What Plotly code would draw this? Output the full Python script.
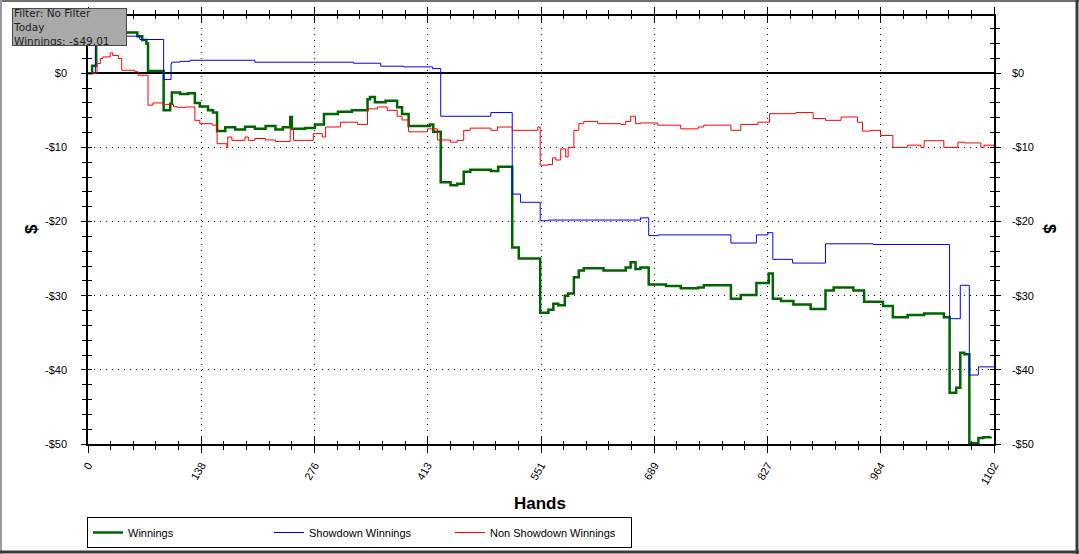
import plotly.graph_objects as go

# ---------------- data ----------------
x_tick_vals = [0, 138, 276, 413, 551, 689, 827, 964, 1102]
x_tick_text = ["0", "138", "276", "413", "551", "689", "827", "964", "1102"]
y_tick_vals = [0, -10, -20, -30, -40, -50]
y_tick_text = ["$0", "-$10", "-$20", "-$30", "-$40", "-$50"]

win_hands = [0, 5, 10, 39, 60, 66, 71, 73, 92, 100, 102, 112, 122, 130, 136, 146, 152, 157,
             167, 179, 191, 203, 216, 228, 237, 246, 248, 264, 276, 287, 304, 321, 340, 343,
             349, 362, 376, 382, 390, 416, 420, 429, 441, 449, 457, 465, 490, 499, 516, 524,
             550, 560, 566, 572, 580, 584, 591, 597, 603, 627, 654, 660, 666, 672, 682, 703,
             721, 742, 749, 782, 794, 813, 828, 833, 843, 858, 879, 897, 907, 931, 944, 967,
             979, 997, 1017, 1041, 1048, 1056, 1061, 1066, 1072, 1083, 1089, 1098]
win_values = [0, 1.0, 7.25, 5.5, 5.0, 4.5, 4.0, 0.3, -5.0, -4.1, -2.6, -2.8, -2.7, -4.0, -4.5,
              -5.0, -5.3, -7.8, -7.3, -7.6, -7.2, -7.5, -7.1, -7.6, -7.3, -5.9, -7.5, -7.4,
              -6.9, -5.5, -5.2, -5.0, -3.5, -3.2, -3.9, -3.7, -4.6, -5.5, -7.1, -6.9, -7.9,
              -14.7, -15.1, -14.9, -13.3, -13.0, -13.2, -12.6, -23.5, -25.0, -32.3, -31.9,
              -31.1, -31.3, -30.0, -29.7, -27.5, -26.6, -26.3, -26.6, -26.2, -25.5, -26.4,
              -26.2, -28.5, -28.7, -29.0, -28.9, -28.6, -30.4, -29.9, -28.3, -27.0, -30.4,
              -30.7, -31.2, -31.8, -29.3, -28.9, -29.3, -30.8, -31.4, -32.9, -32.6, -32.4,
              -32.9, -43.1, -42.4, -37.7, -37.9, -49.9, -49.2, -49.1, -49.01]

sd_hands = [0, 9, 63, 92, 101, 102, 112, 124, 203, 323, 356, 384, 419, 429, 490, 516, 526,
            550, 560, 672, 682, 694, 782, 813, 827, 833, 857, 897, 955, 1048, 1061, 1072,
            1083, 1102]
sd_values = [0, 5.0, 4.55, -0.85, 1.3, 1.5, 1.6, 1.75, 1.49, 1.35, 0.95, 0.86, 0.63, -5.8,
             -5.3, -16.3, -17.4, -19.9, -19.8, -19.5, -21.9, -21.8, -22.9, -21.8, -21.5,
             -25.1, -25.6, -23.0, -23.1, -33.1, -28.6, -40.7, -39.6, -39.6]

nsd_hands = [0, 11, 15, 18, 27, 30, 37, 41, 57, 61, 73, 79, 91, 104, 108, 118, 130, 136, 151,
             157, 169, 170, 175, 191, 195, 203, 216, 228, 246, 250, 274, 285, 289, 307, 328,
             340, 352, 364, 376, 382, 390, 413, 425, 441, 449, 457, 465, 490, 498, 516, 547,
             550, 559, 565, 569, 575, 581, 584, 591, 597, 603, 620, 648, 654, 660, 666, 672,
             693, 721, 742, 749, 782, 794, 815, 829, 861, 882, 897, 916, 936, 942, 952, 964,
             979, 997, 1013, 1017, 1041, 1058, 1066, 1086, 1090, 1102]
nsd_values = [0, 1.3, 2.0, 2.2, 2.75, 2.4, 2.0, 0.4, 0.2, -0.27, -4.3, -4.0, -4.2, -4.5, -4.6,
              -4.55, -6.35, -6.8, -7.0, -9.5, -10.0, -8.6, -9.05, -8.6, -9.05, -8.8, -9.0,
              -9.2, -7.5, -9.05, -8.15, -8.6, -7.25, -6.6, -6.9, -4.8, -4.55, -5.0, -5.8,
              -6.3, -7.9, -7.5, -9.0, -9.3, -9.05, -7.7, -7.4, -7.7, -7.25, -7.7, -7.25,
              -12.4, -12.3, -11.4, -11.7, -10.2, -11.3, -10.0, -7.7, -6.8, -6.5, -6.8, -6.9,
              -6.5, -5.8, -6.8, -6.7, -7.0, -7.5, -7.25, -7.0, -7.7, -6.9, -6.6, -5.45, -5.3,
              -6.1, -6.35, -5.9, -6.6, -7.8, -7.7, -8.4, -10.0, -9.7, -10.0, -9.1, -10.0,
              -9.3, -9.4, -10.0, -9.7, -9.9]

info_text = "Filter: No Filter<br>Today<br>Winnings: -$49.01"

# ---------------- figure ----------------
FONT = "Liberation Sans, Arial, sans-serif"
W, H = 1079, 554
ML, MR, MT, MB = 88, 85, 16, 110
PW, PH = W - ML - MR, H - MT - MB
Y_TOP = 7.72


def px_x(p):
    return (p - ML) / PW


def px_y(p):
    return (H - MB - p) / PH


fig = go.Figure()
fig.add_trace(go.Scatter(x=win_hands, y=win_values, mode="lines", name="Winnings",
                         line=dict(color="#006400", width=2.5, shape="hv")))
fig.add_trace(go.Scatter(x=sd_hands, y=sd_values, mode="lines", name="Showdown Winnings",
                         line=dict(color="#0000ff", width=1, shape="hv")))
fig.add_trace(go.Scatter(x=nsd_hands, y=nsd_values, mode="lines", name="Non Showdown Winnings",
                         line=dict(color="#ff0000", width=1, shape="hv")))

# helper traces so that the overlay axes (right labels / crossing ticks) are drawn
for xa, ya in [("x", "y2"), ("x", "y3"), ("x", "y4"), ("x2", "y")]:
    fig.add_trace(go.Scatter(x=[None], y=[None], xaxis=xa, yaxis=ya, mode="lines",
                             showlegend=False, hoverinfo="skip"))

tick_font = dict(family=FONT, size=11, color="black")
grid_dash = "1px,5px"

y_common = dict(range=[-50, Y_TOP], tickmode="array", tickvals=y_tick_vals,
                ticktext=y_tick_text, tickfont=tick_font, automargin=False,
                tickcolor="black", tickwidth=1)

fig.update_layout(
    width=W, height=H,
    margin=dict(l=ML, r=MR, t=MT, b=MB, autoexpand=False),
    paper_bgcolor="white", plot_bgcolor="white",
    font=dict(family=FONT, size=11, color="black"),
    showlegend=True,
    legend=dict(orientation="h", x=px_x(87), y=px_y(517), xanchor="left", yanchor="top",
                bordercolor="black", borderwidth=1, bgcolor="white",
                entrywidth=136, entrywidthmode="pixels", tracegroupgap=0,
                font=dict(family=FONT, size=11, color="black"), itemwidth=30),
    xaxis=dict(range=[0, 1102], tickmode="array", tickvals=x_tick_vals, ticktext=x_tick_text,
               tickangle=-60, tickfont=tick_font, ticks="outside", ticklen=7, tickwidth=1,
               tickcolor="black", showline=True, linecolor="black", linewidth=1.5,
               mirror="ticks", showgrid=True, gridcolor="black", gridwidth=1,
               griddash=grid_dash, zeroline=False, automargin=False, ticklabelstandoff=2,
               minor=dict(tickmode="linear", tick0=0, dtick=1102 / 40, ticks="outside",
                          ticklen=4, tickcolor="black", tickwidth=1, showgrid=False)),
    xaxis2=dict(range=[0, 1102], overlaying="x", side="bottom", anchor="y",
                tickmode="array", tickvals=x_tick_vals, showticklabels=False,
                ticks="inside", ticklen=7, tickwidth=1, tickcolor="black",
                showline=False, mirror="ticks", showgrid=False, zeroline=False,
                minor=dict(tickmode="linear", tick0=0, dtick=1102 / 40, ticks="inside",
                           ticklen=3, tickcolor="black", tickwidth=1, showgrid=False)),
    yaxis=dict(**y_common, side="left", ticks="outside", ticklen=5,
               showline=True, linecolor="black", linewidth=1.5,
               showgrid=True, gridcolor="black", gridwidth=1, griddash=grid_dash,
               zeroline=True, zerolinecolor="black", zerolinewidth=1.5,
               ticklabelstandoff=12,
               minor=dict(tickmode="linear", tick0=0, dtick=2, ticks="outside", ticklen=4,
                          tickcolor="black", tickwidth=1, showgrid=False)),
    yaxis2=dict(**y_common, side="right", overlaying="y", anchor="x", ticks="outside",
                ticklen=5, showline=True, linecolor="black", linewidth=1.5,
                showgrid=False, zeroline=False, ticklabelstandoff=9,
                minor=dict(tickmode="linear", tick0=0, dtick=2, ticks="outside", ticklen=4,
                           tickcolor="black", tickwidth=1, showgrid=False)),
    yaxis3=dict(range=[-50, Y_TOP], overlaying="y", side="left", anchor="x",
                tickmode="array", tickvals=y_tick_vals, showticklabels=False,
                ticks="inside", ticklen=4, tickcolor="black", tickwidth=1,
                showline=False, showgrid=False, zeroline=False,
                minor=dict(tickmode="linear", tick0=0, dtick=2, ticks="inside", ticklen=4,
                           tickcolor="black", tickwidth=1, showgrid=False)),
    yaxis4=dict(range=[-50, Y_TOP], overlaying="y", side="right", anchor="x",
                tickmode="array", tickvals=y_tick_vals, showticklabels=False,
                ticks="inside", ticklen=4, tickcolor="black", tickwidth=1,
                showline=False, showgrid=False, zeroline=False,
                minor=dict(tickmode="linear", tick0=0, dtick=2, ticks="inside", ticklen=4,
                           tickcolor="black", tickwidth=1, showgrid=False)),
)

annotations = [
    dict(text="<b>Hands</b>", x=px_x(540), y=px_y(504), xref="paper", yref="paper",
         showarrow=False, xanchor="center", yanchor="middle",
         font=dict(family=FONT, size=17, color="black")),
    dict(text="<b>$</b>", x=px_x(31), y=px_y(229), xref="paper", yref="paper",
         showarrow=False, textangle=-90, xanchor="center", yanchor="middle",
         font=dict(family=FONT, size=17, color="black")),
    dict(text="<b>$</b>", x=px_x(1050), y=px_y(229), xref="paper", yref="paper",
         showarrow=False, textangle=90, xanchor="center", yanchor="middle",
         font=dict(family=FONT, size=17, color="black")),
    # info box in the top-left corner, drawn on top of the axis frame
    dict(text=info_text, x=px_x(12), y=px_y(8), xref="paper", yref="paper",
         showarrow=False, xanchor="left", yanchor="top", align="left", valign="middle",
         width=113, height=36, bgcolor="#a9a9a9", bordercolor="#4a4a4a", borderwidth=1,
         borderpad=0,
         font=dict(family="DejaVu Sans, Verdana, sans-serif", size=10.5, color="#1e1e1e")),
]
fig.update_layout(annotations=annotations)

# outer window frame
shapes = [
    dict(type="line", xref="paper", yref="paper", x0=px_x(0), x1=px_x(W), y0=px_y(1), y1=px_y(1),
         line=dict(color="#707070", width=2)),
    dict(type="line", xref="paper", yref="paper", x0=px_x(1), x1=px_x(1), y0=px_y(0), y1=px_y(H),
         line=dict(color="#9a9a9a", width=2)),
    dict(type="line", xref="paper", yref="paper", x0=px_x(W - 2), x1=px_x(W - 2), y0=px_y(0),
         y1=px_y(H), line=dict(color="#3a3a3a", width=3)),
    dict(type="line", xref="paper", yref="paper", x0=px_x(0), x1=px_x(W), y0=px_y(H - 2),
         y1=px_y(H - 2), line=dict(color="#3a3a3a", width=3)),
]
fig.update_layout(shapes=shapes)

fig.write_html("out.html", config={"displayModeBar": False},
               post_script="document.body.style.margin='0';"
                           "document.body.style.padding='0';")
